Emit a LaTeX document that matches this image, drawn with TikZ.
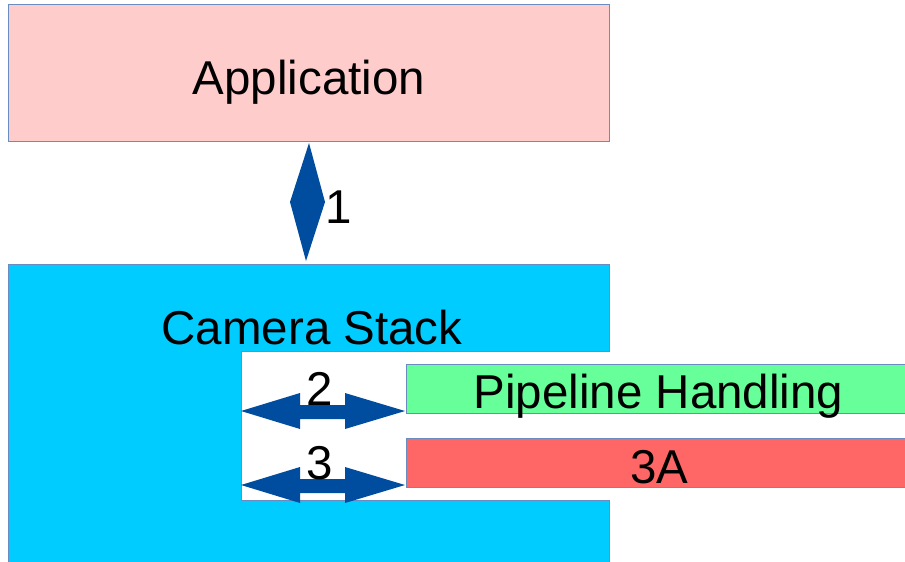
\documentclass[tikz,border=0pt]{standalone}
\usepackage{fontspec}
\setmainfont{Liberation Sans}
\definecolor{appfill}{HTML}{FFCCCC}
\definecolor{camfill}{HTML}{00CCFF}
\definecolor{pipefill}{HTML}{66FF99}
\definecolor{aaafill}{HTML}{FF6666}
\definecolor{edge}{HTML}{6A8CC0}
\definecolor{arrowblue}{HTML}{004C9E}
\tikzset{
  box/.style={draw=edge, line width=0.8pt},
  lbl/.style={anchor=base, inner sep=0pt, font=\fontsize{47.5}{57}\selectfont},
  arr/.style={fill=arrowblue},
}
\begin{document}
\begin{tikzpicture}[x=1pt,y=-1pt]
\useasboundingbox (0,0) rectangle (905,562);
% Application
\path[box, fill=appfill] (8,4) rectangle (609,141);
\node[lbl] (app) at (309,94) {Application};
% Camera stack
\path[box, fill=camfill] (8,264) -- (609,264) -- (609,351) -- (241,351) -- (241,500) -- (609,500) -- (609,566) -- (8,566) -- cycle;
\node[lbl] (cam) at (312,344) {Camera Stack};
% Pipeline and 3A
\path[box, fill=pipefill] (406,364) rectangle (908,413);
\node[lbl] (pipe) at (658.5,408) {Pipeline Handling};
\path[box, fill=aaafill] (406,438) rectangle (908,487);
\node[lbl] (aaa) at (659.5,483) {3A};
% Arrow 1
\coordinate (a1t) at (309,143);
\coordinate (a1b) at (306,261);
\fill[arr] (a1t) -- (325,202) -- (a1b) -- (290,202) -- cycle;
\node[lbl] (n1) at (339,223) {1};
% Arrow 2
\coordinate (a2l) at (241,411);
\coordinate (a2r) at (405,411);
\fill[arr] (a2l) -- (300,393) -- (300,405) -- (345,405) -- (345,393) -- (a2r) -- (345,429) -- (345,419) -- (300,419) -- (300,429) -- cycle;
\node[lbl] (n2) at (320,405) {2};
% Arrow 3
\coordinate (a3l) at (241,485);
\coordinate (a3r) at (405,485);
\fill[arr] (a3l) -- (300,467) -- (300,479) -- (345,479) -- (345,467) -- (a3r) -- (345,503) -- (345,493) -- (300,493) -- (300,503) -- cycle;
\node[lbl] (n3) at (320,479) {3};
\end{tikzpicture}
\end{document}
